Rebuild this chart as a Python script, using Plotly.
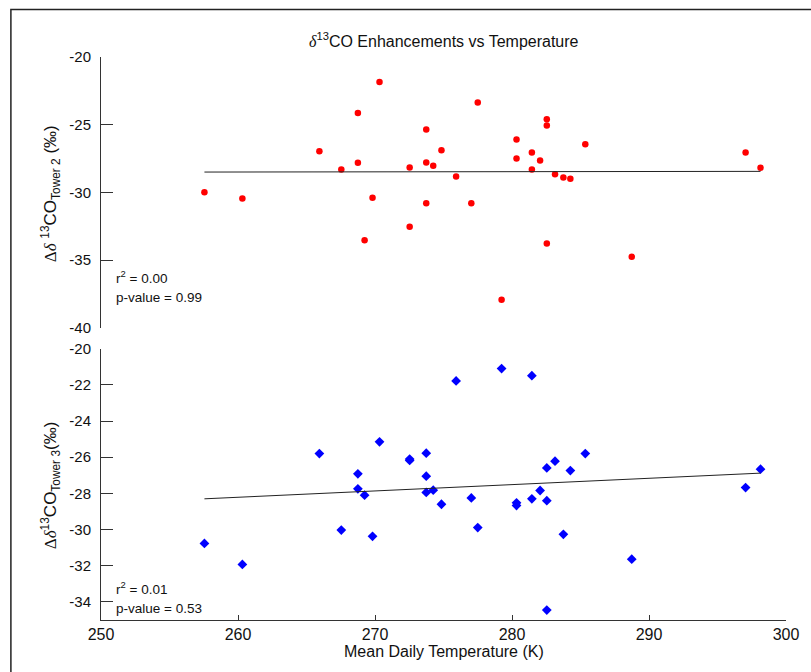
import plotly.graph_objects as go

# ---- data ----
temps = [257.55, 260.32, 265.94, 267.54, 268.75, 268.75, 269.24, 269.82, 270.33,
         272.53, 272.53, 273.74, 273.74, 273.74, 274.25, 274.85, 275.92, 277.03,
         277.5, 279.24, 280.33, 280.33, 281.45, 281.45, 282.05, 282.54, 282.54,
         282.54, 283.14, 283.75, 284.26, 285.35, 288.74, 297.05, 298.14]

tower2 = [-30.0, -30.45, -26.96, -28.31, -24.13, -27.82, -33.53, -30.4, -21.84,
          -28.16, -32.54, -25.36, -27.79, -30.8, -28.04, -26.89, -28.83, -30.8,
          -23.37, -37.93, -26.1, -27.5, -27.06, -28.31, -27.65, -24.6, -25.06,
          -33.77, -28.66, -28.9, -29.0, -26.44, -34.76, -27.06, -28.19]

tower3 = [-30.77, -31.93, -25.8, -30.03, -26.92, -27.75, -28.1, -30.37, -25.15,
          -26.1, -26.18, -25.78, -27.05, -27.95, -27.82, -28.6, -21.78, -28.25,
          -29.89, -21.1, -28.52, -28.67, -21.49, -28.3, -27.84, -26.59, -28.4,
          -34.45, -26.22, -30.26, -26.74, -25.8, -31.64, -27.68, -26.66]

fit_x = [257.55, 298.14]
fit2_y = [-28.5, -28.45]
fit3_y = [-28.3, -26.88]

x_ticks = [250, 260, 270, 280, 290, 300]
y2_ticks = [-20, -25, -30, -35, -40]
y3_ticks = [-20, -22, -24, -26, -28, -30, -32, -34]

stats2 = ["r<sup>2</sup> = 0.00", "p-value = 0.99"]
stats3 = ["r<sup>2</sup> = 0.01", "p-value = 0.53"]

FONT = "Liberation Sans, Arial, Helvetica, sans-serif"
SERIF = "Liberation Serif, Times New Roman, serif"
AX = "#333333"

fig = go.Figure()
fig.add_trace(go.Scatter(x=temps, y=tower2, mode="markers", xaxis="x2", yaxis="y2",
                         marker=dict(color="#ff0000", size=6.5, symbol="circle"),
                         showlegend=False))
fig.add_trace(go.Scatter(x=fit_x, y=fit2_y, mode="lines", xaxis="x2", yaxis="y2",
                         line=dict(color="#222222", width=1), showlegend=False))
fig.add_trace(go.Scatter(x=temps, y=tower3, mode="markers", xaxis="x", yaxis="y",
                         marker=dict(color="#0000ff", size=7.5, symbol="diamond"),
                         showlegend=False))
fig.add_trace(go.Scatter(x=fit_x, y=fit3_y, mode="lines", xaxis="x", yaxis="y",
                         line=dict(color="#222222", width=1), showlegend=False))

L, R, T, B = 101, 22, 57, 52
W, H = 811, 672
ph = H - T - B
pw = W - L - R

def py(pix):
    return (H - B - pix) / ph

def px(pix):
    return (pix - L) / pw

yax_common = dict(ticks="inside", ticklen=12, tickcolor=AX, tickwidth=1,
                  showline=True, linecolor=AX, linewidth=1, showgrid=False, zeroline=False,
                  tickfont=dict(size=15, family=FONT), ticklabelstandoff=6)

fig.update_layout(
    width=W, height=H,
    margin=dict(l=L, r=R, t=T, b=B),
    paper_bgcolor="white", plot_bgcolor="white",
    font=dict(family=FONT, color="#111111", size=15),
    xaxis=dict(range=[250, 300], domain=[0, 1], anchor="y",
               tickvals=x_ticks, ticktext=[str(v) for v in x_ticks],
               ticks="inside", ticklen=5, tickcolor=AX, tickwidth=1,
               showline=True, linecolor=AX, linewidth=1, showgrid=False, zeroline=False,
               tickfont=dict(size=16, family=FONT), ticklabelstandoff=0),
    yaxis=dict(range=[-35, -20], domain=[0, py(348.7)], anchor="x",
               tickvals=y3_ticks, ticktext=[str(v) for v in y3_ticks], **yax_common),
    xaxis2=dict(range=[250, 300], domain=[0, 1], anchor="y2", matches="x",
                showline=False, showticklabels=False, ticks="", showgrid=False, zeroline=False),
    yaxis2=dict(range=[-40, -20], domain=[py(327.7), 1], anchor="x2",
                tickvals=y2_ticks, ticktext=[str(v) for v in y2_ticks], **yax_common),
)

ann = []
ann.append(dict(xref="paper", yref="paper", x=0.5, y=py(40), xanchor="center", yanchor="middle",
                showarrow=False, font=dict(size=16, family=FONT),
                text=f"<span style='font-family:{SERIF}'><i>δ</i></span><sup>13</sup>CO Enhancements vs Temperature"))
ann.append(dict(xref="paper", yref="paper", x=0.5, y=py(651), xanchor="center", yanchor="middle",
                showarrow=False, font=dict(size=16, family=FONT),
                text="Mean Daily Temperature (K)"))
ann.append(dict(xref="paper", yref="paper", x=px(50), y=py(194), xanchor="center", yanchor="middle",
                textangle=-90, showarrow=False, font=dict(size=17, family=FONT),
                text=f"<span style='font-family:{SERIF}'>Δ<i>δ</i></span> <sup>13</sup>CO<sub>Tower 2</sub> (‰)"))
ann.append(dict(xref="paper", yref="paper", x=px(50), y=py(485), xanchor="center", yanchor="middle",
                textangle=-90, showarrow=False, font=dict(size=17, family=FONT),
                text=f"<span style='font-family:{SERIF}'>Δ<i>δ</i></span><sup>13</sup>CO<sub>Tower 3</sub>(‰)"))
for txt, yp in zip(stats2, [277, 297]):
    ann.append(dict(xref="paper", yref="paper", x=px(114), y=py(yp), xanchor="left", yanchor="middle",
                    showarrow=False, font=dict(size=13.5, family=FONT), text=txt))
for txt, yp in zip(stats3, [588, 608]):
    ann.append(dict(xref="paper", yref="paper", x=px(114), y=py(yp), xanchor="left", yanchor="middle",
                    showarrow=False, font=dict(size=13.5, family=FONT), text=txt))
fig.update_layout(annotations=ann)

fig.add_shape(type="rect", xref="paper", yref="paper",
              x0=px(10.5), x1=px(830), y0=py(690), y1=py(9.5),
              line=dict(color="#222222", width=1.5), fillcolor="rgba(0,0,0,0)", layer="above")

fig.write_html("out.html")
